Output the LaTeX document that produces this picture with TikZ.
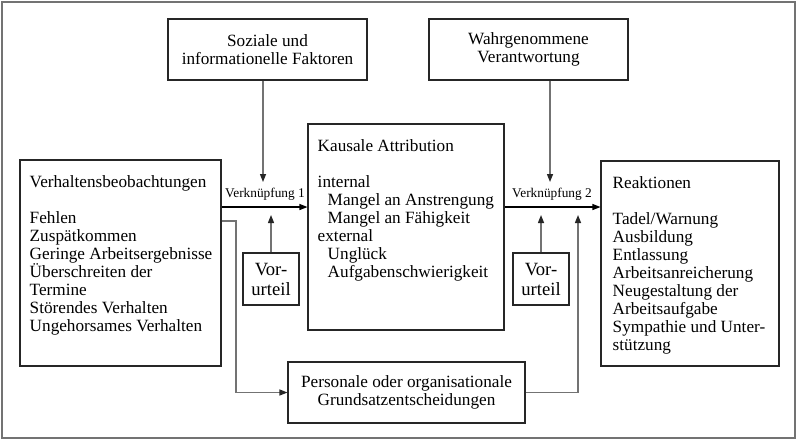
\documentclass[tikz,border=0pt]{standalone}
\usepackage{fontspec}
\setmainfont{Liberation Serif}
\usepackage{tikz}
\usetikzlibrary{positioning}
\usetikzlibrary{arrows.meta}

\tikzset{
  box/.style={draw=black!85, line width=0.8pt, inner sep=0pt},
  boxtext/.style={inner sep=0pt, anchor=north west, align=left,
    font=\fontsize{12.9}{13.5}\selectfont},
  flow/.style={->, line width=0.8pt, black},
  link/.style={-{Triangle[length=6pt, width=4.5pt, color=black!85]},
    line width=1pt, black!55},
  linklabel/.style={inner sep=0pt, font=\fontsize{10}{12}\selectfont}
}

\begin{document}
\begin{tikzpicture}[x=0.75pt, y=-0.75pt, >={Triangle[length=6pt, width=4.5pt]}]
    \useasboundingbox (0,0) rectangle (798,440);
    \draw[black!55, line width=1.4pt] (2,2) rectangle (795,438);

    % boxes
    \node[box, minimum width=149.25pt, minimum height=45.75pt, align=center,
          font=\fontsize{12.9}{13.5}\selectfont] (soz) at (267.5,49.5)
          {Soziale und\\informationelle Faktoren};
    \node[box, minimum width=149.25pt, minimum height=45.75pt, align=center,
          font=\fontsize{12.9}{13.5}\selectfont] (wahr) at (528.5,49.5)
          {Wahrgenommene\\Verantwortung};
    \node[box, minimum width=150.75pt, minimum height=154.5pt] (verh) at (120.5,263) {};
    \node[box, minimum width=147pt, minimum height=154.5pt] (kaus) at (406,227) {};
    \node[box, minimum width=133.5pt, minimum height=153.75pt] (reak) at (690,263.5) {};
    \node[box, minimum width=42pt, minimum height=39pt, align=center,
          font=\fontsize{14}{15}\selectfont] (vorl) at (271,279) {Vor-\\urteil};
    \node[box, minimum width=42pt, minimum height=39pt, align=center,
          font=\fontsize{14}{15}\selectfont] (vorr) at (541,279) {Vor-\\urteil};
    \node[box, minimum width=177.75pt, minimum height=45.75pt, align=center,
          font=\fontsize{12.9}{13.5}\selectfont] (pers) at (406.5,392.5)
          {Personale oder organisationale\\Grundsatzentscheidungen};

    % box texts
    \node[boxtext] (verhtext) at ([xshift=7.5pt, yshift=-12pt]verh.north west)
          {Verhaltensbeobachtungen\\[13.5pt]
           Fehlen\\Zuspätkommen\\Geringe Arbeitsergebnisse\\Überschreiten der\\
           Termine\\Störendes Verhalten\\Ungehorsames Verhalten};
    \node[boxtext] (kaustext) at ([xshift=7.5pt, yshift=-12pt]kaus.north west)
          {Kausale Attribution\\[13.5pt]
           internal\\
           \hspace*{7.5pt}Mangel an Anstrengung\\
           \hspace*{7.5pt}Mangel an Fähigkeit\\
           external\\
           \hspace*{7.5pt}Unglück\\
           \hspace*{7.5pt}Aufgabenschwierigkeit};
    \node[boxtext] (reaktext) at ([xshift=9pt, yshift=-11.5pt]reak.north west)
          {Reaktionen\\[13.5pt]
           Tadel/Warnung\\Ausbildung\\Entlassung\\Arbeitsanreicherung\\
           Neugestaltung der\\Arbeitsaufgabe\\Sympathie und Unter-\\stützung};

    % free ends
    \coordinate (k1) at (264,207);
    \coordinate (k2) at (552,207);
    \coordinate (s1) at (263,182);
    \coordinate (s2) at (550,182);
    \coordinate (u1) at (271,215);
    \coordinate (u2) at (541,215);
    \coordinate (u3) at (578,215);
    \coordinate (b1) at (236,221);

    % main flow
    \draw[flow] (verh.east |- k1) -- (kaus.west |- k1);
    \draw[flow] (kaus.east |- k2) -- (reak.west |- k2);
    \node[linklabel] (lab1) at (265,194) {Verknüpfung 1};
    \node[linklabel] (lab2) at (552,194) {Verknüpfung 2};

    % influences
    \draw[link] (s1 |- soz.south) -- (s1);
    \draw[link] (s2 |- wahr.south) -- (s2);
    \draw[link] (vorl.north) -- (u1);
    \draw[link] (vorr.north) -- (u2);
    \draw[link] (verh.east |- b1) -- (b1) |- (pers.west);
    \draw[link] (pers.east) -| (u3);
\end{tikzpicture}
\end{document}
